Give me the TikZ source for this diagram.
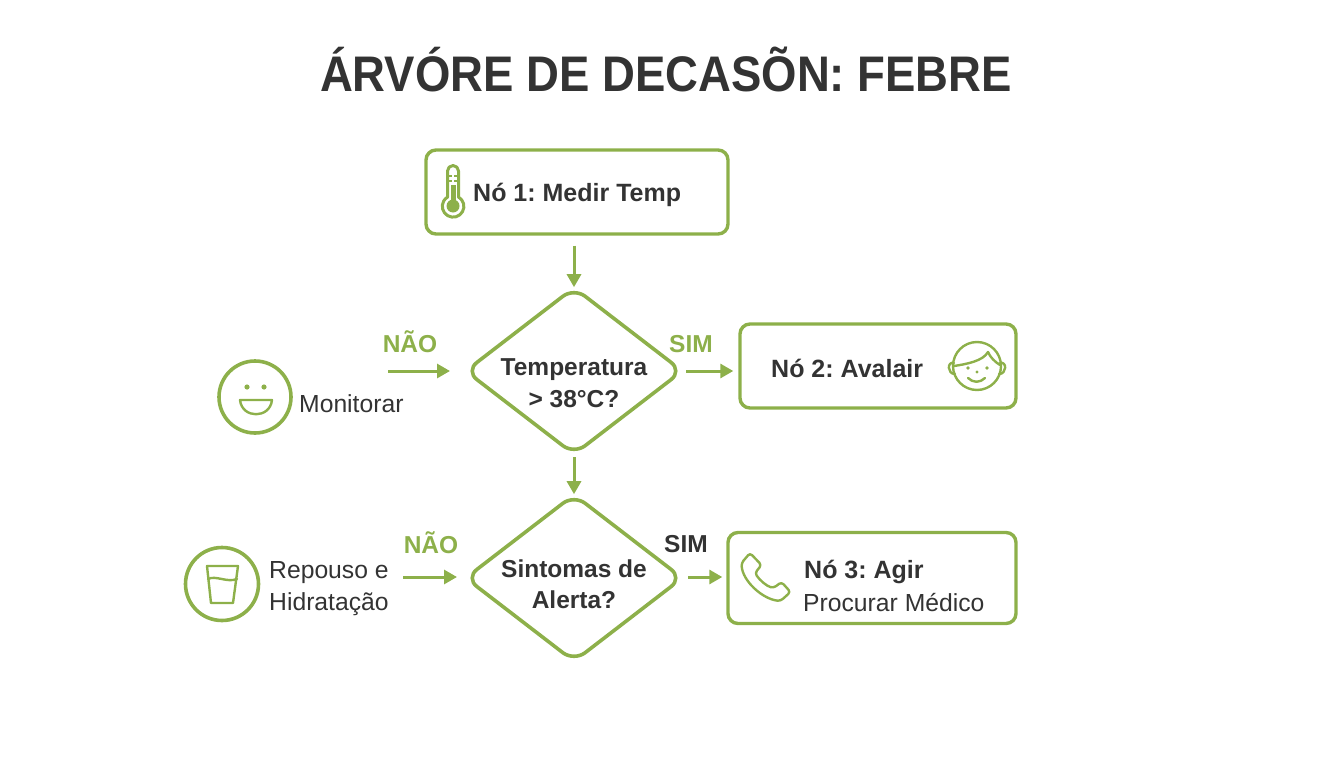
\documentclass[tikz,border=0pt]{standalone}
\usepackage{fontspec}
\setmainfont{Liberation Sans}
\newfontfamily\titlefont[FakeStretch=0.91]{Liberation Sans}
\usepackage{tikz}
\usetikzlibrary{arrows.meta,shapes.geometric,positioning}
\frenchspacing
\definecolor{leaf}{HTML}{8DB04A}
\definecolor{ink}{HTML}{333333}
\tikzset{
  box/.style={draw=leaf,line width=3.4pt,rounded corners=10pt,inner sep=0pt},
  decision/.style={draw=leaf,line width=3.6pt,diamond,rounded corners=14pt,inner sep=0pt,
    minimum width=218pt,minimum height=168pt,aspect=1.293},
  asking/.style={align=center,inner sep=0pt,text=ink,font=\fontsize{24.5}{31.5}\selectfont\bfseries},
  flow/.style={draw=leaf,line width=3pt,-{Triangle[length=13pt,width=14pt]}},
  bold/.style={anchor=base west,inner sep=0pt,text=ink,font=\fontsize{25}{30}\selectfont\bfseries},
  plain/.style={anchor=base west,inner sep=0pt,text=ink,align=left,font=\fontsize{24.7}{32}\selectfont},
  word/.style={anchor=base,inner sep=0pt,text=leaf,font=\fontsize{24.5}{30}\selectfont\bfseries},
  icon/.style={draw=leaf,line width=2.4pt,line cap=round,line join=round},
  ring/.style={draw=leaf,line width=3.6pt,circle,inner sep=0pt},
}
\begin{document}
\begin{tikzpicture}[x=1pt,y=-1pt]
  \useasboundingbox (0,0) rectangle (1344,768);
  \node[anchor=base,inner sep=0pt,text=ink,font=\fontsize{50}{60}\selectfont\titlefont\bfseries] (title) at (666,92) {ÁRVÓRE DE DECASÕN: FEBRE};
  % boxes
  \node[box,minimum width=302pt,minimum height=84pt] (no1) at (577,192) {};
  \node[box,minimum width=276pt,minimum height=84pt] (no2) at (878,366) {};
  \node[box,minimum width=288pt,minimum height=91pt] (no3) at (872,578) {};
  \node[bold] (no1txt) at (473,201) {Nó 1: Medir Temp};
  \node[bold] (no2txt) at (771,377) {Nó 2: Avalair};
  \node[bold] (no3txt) at (804,578) {Nó 3: Agir};
  \node[plain] (no3sub) at (803,611) {Procurar Médico};
  % decisions
  \node[decision] (temp) at (574,371) {};
  \node[decision] (alerta) at (574,578) {};
  \node[asking] (temptxt) at (574,383) {Temperatura\\> 38°C?};
  \node[asking] (alertatxt) at (574,584) {Sintomas de\\Alerta?};
  % left side
  \node[ring,minimum size=72pt] (monitor) at (255,397) {};
  \node[plain] (monitortxt) at (299,412) {Monitorar};
  \node[ring,minimum size=73pt] (repouso) at (222,584) {};
  \node[plain,anchor=west] (repousotxt) at (269,589) {Repouso e\\Hidratação};
  % labels
  \node[word] (nao1) at (410,352) {NÃO};
  \node[word] (sim1) at (691,352) {SIM};
  \node[word] (nao2) at (431,553) {NÃO};
  \node[word,text=ink] (sim2) at (686,552) {SIM};
  % arrows
  \coordinate (nao1start) at (388,371);
  \coordinate (nao1end) at (450,371);
  \coordinate (nao2start) at (403,577);
  \coordinate (nao2end) at (457,577);
  \coordinate (sim1start) at (686,371);
  \coordinate (sim2start) at (688,577);
  \coordinate (tempout) at (574,457);
  \draw[flow,shorten <=10pt,shorten >=-2pt] (temp |- no1.south) -- (temp.north);
  \draw[flow,shorten >=-2pt] (tempout) -- (alerta.north);
  \draw[flow] (nao1start) -- (nao1end);
  \draw[flow,shorten >=5pt] (sim1start) -- (sim1start -| no2.west);
  \draw[flow] (nao2start) -- (nao2end);
  \draw[flow,shorten >=4pt] (sim2start) -- (sim2start -| no3.west);
  % thermometer
  \begin{scope}[shift={(453,191)}]
    \draw[leaf,line width=3pt,line join=round] (-5.5,6) -- (-5.5,-20) arc[start angle=180,end angle=360,radius=5.5] -- (5.5,6)
      arc[start angle=-60,end angle=240,radius=10.8] -- cycle;
    \fill[leaf] (0,15) circle (6.5);
    \fill[leaf] (-2.5,-6) rectangle (2.5,12);
    \draw[leaf,line width=1.4pt] (-5,-15) -- (-1,-15) (-5,-10) -- (-1,-10) (1,-15) -- (5,-15) (1,-10) -- (5,-10);
  \end{scope}
  % smile
  \begin{scope}[shift={(255,397)}]
    \fill[leaf] (-8,-10) circle (2.6) (9,-10) circle (2.6);
    \draw[icon] (-15,3) -- (17,3) .. controls (15,22) and (-13,22) .. (-15,3) -- cycle;
  \end{scope}
  % glass
  \begin{scope}[shift={(222,584)}]
    \draw[icon] (-15,-18) -- (16,-18) -- (11,19) -- (-11,19) -- cycle;
    \draw[icon] (-14,-5) .. controls (-6,-9) and (5,-1) .. (15,-5);
  \end{scope}
  % face
  \begin{scope}[shift={(977,366)}]
    \draw[icon] (0,0) circle (24);
    \draw[icon] (-23,0) .. controls (-10,-2) and (6,-5) .. (11,-14) .. controls (13,-9) and (18,-4) .. (23,-1);
    \draw[icon] (-23,-3) .. controls (-30,-5) and (-30,8) .. (-22,8);
    \draw[icon] (23,-3) .. controls (30,-5) and (30,8) .. (22,8);
    \fill[leaf] (-9,2) circle (1.9) (10,2) circle (1.9) (0,6) circle (1.6);
    \draw[icon] (-9,12) .. controls (-4,17) and (3,17) .. (8,12);
  \end{scope}
  % phone
  \begin{scope}[shift={(766.5,577)}]
    \draw[icon,rounded corners=3pt] (-16.5,-24) -- (-5,-12) -- (-11.5,-4) .. controls (-7,3) and (0,9) .. (7,11) -- (15,5) -- (24,15) -- (14,24)
      .. controls (-4,22) and (-24,4) .. (-25,-14) -- cycle;
  \end{scope}
\end{tikzpicture}
\end{document}
